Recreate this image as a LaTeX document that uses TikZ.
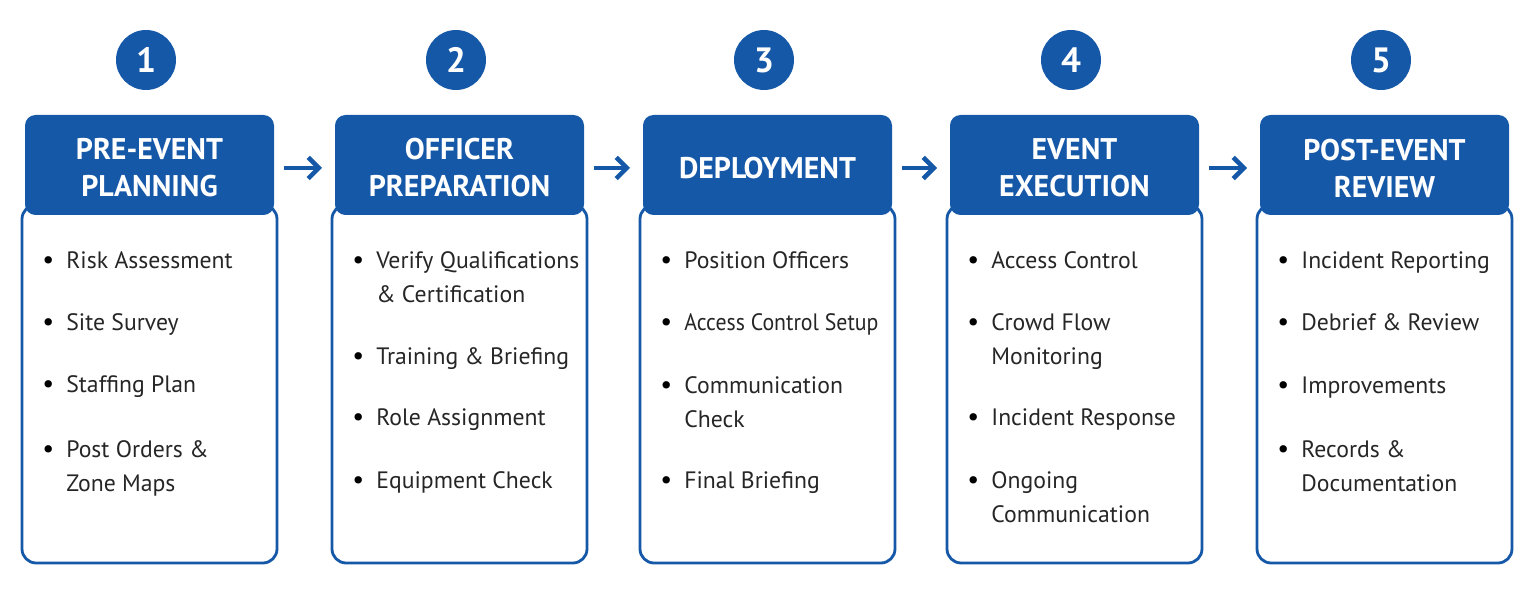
\documentclass[tikz,border=0pt]{standalone}
\usepackage{fontspec}
\setmainfont{PT Sans}
\usetikzlibrary{arrows.meta, positioning}
\definecolor{stepblue}{RGB}{22,88,168}

\begin{document}
\begin{tikzpicture}[x=0.02cm, y=-0.02cm,
        body/.style={draw=stepblue, line width=1.6pt, fill=white, rounded corners=8pt},
        head/.style={fill=stepblue, rounded corners=6pt},
        num/.style={circle, fill=stepblue, minimum size=1.2cm, text=white, font=\bfseries\fontsize{20}{20}\selectfont},
        title/.style={text=white, align=center, font=\bfseries\fontsize{17}{21}\selectfont},
        dot/.style={font=\fontsize{15}{15}\selectfont, anchor=base west, inner sep=0pt},
        line/.style={font=\fontsize{13.5}{15}\selectfont, anchor=base west, inner sep=0pt, text=black!85},
        arrow/.style={-{Straight Barb[length=6pt, width=12pt]}, draw=stepblue, line width=2.6pt}
    ]
        \useasboundingbox (0,0) rectangle (1536,597);

        % Boxes, headers and numbers
        \foreach \i/\x/\t in {1/22/{PRE-EVENT\\PLANNING}, 2/332/{OFFICER\\PREPARATION}, 3/640/{DEPLOYMENT}, 4/947/{EVENT\\EXECUTION}, 5/1257/{POST-EVENT\\REVIEW}} {
            \draw[body] (\x,205) rectangle ++(255,358);
            \fill[head] (\x+3,115) rectangle ++(249,100);
            \node[title] (t\i) at (\x+127.5,168) {\t};
            \coordinate (hl\i) at (\x-10,168);
            \coordinate (hr\i) at (\x+262,168);
            \node[num] (n\i) at (\x+124,60) {\i};
        }

        % Arrows between steps
        \draw[arrow] (hr1) -- (hl2);
        \draw[arrow] (hr2) -- (hl3);
        \draw[arrow] (hr3) -- (hl4);
        \draw[arrow] (hr4) -- (hl5);

        % Items: x of box, y baseline, lines
        \foreach \x/\y/\a/\b in {
            22/269/{Risk Assessment}/{}, 22/331/{Site Survey}/{}, 22/393/{Staffing Plan}/{}, 22/458/{Post Orders \&}/{Zone Maps},
            332/269/{Verify Qualifications}/{\& Certification}, 332/365/{Training \& Briefing}/{}, 332/426/{Role Assignment}/{}, 332/489/{Equipment Check}/{},
            640/269/{Position Officers}/{}, 640/331/{\scalebox{0.92}[1]{Access Control Setup}}/{}, 640/394/{Communication}/{Check}, 640/489/{Final Briefing}/{},
            947/269/{Access Control}/{}, 947/331/{Crowd Flow}/{Monitoring}, 947/426/{Incident Response}/{}, 947/489/{Ongoing}/{Communication},
            1257/269/{Incident Reporting}/{}, 1257/331/{Debrief \& Review}/{}, 1257/394/{Improvements}/{}, 1257/458/{Records \&}/{Documentation}} {
            \node[dot] (d-\x-\y) at (\x+20,\y) {\textbullet};
            \node[line] (a-\x-\y) at (\x+44,\y) {\a};
            \node[line] (b-\x-\y) at (\x+44,\y+34) {\b};
        }
    \end{tikzpicture}
\end{document}
